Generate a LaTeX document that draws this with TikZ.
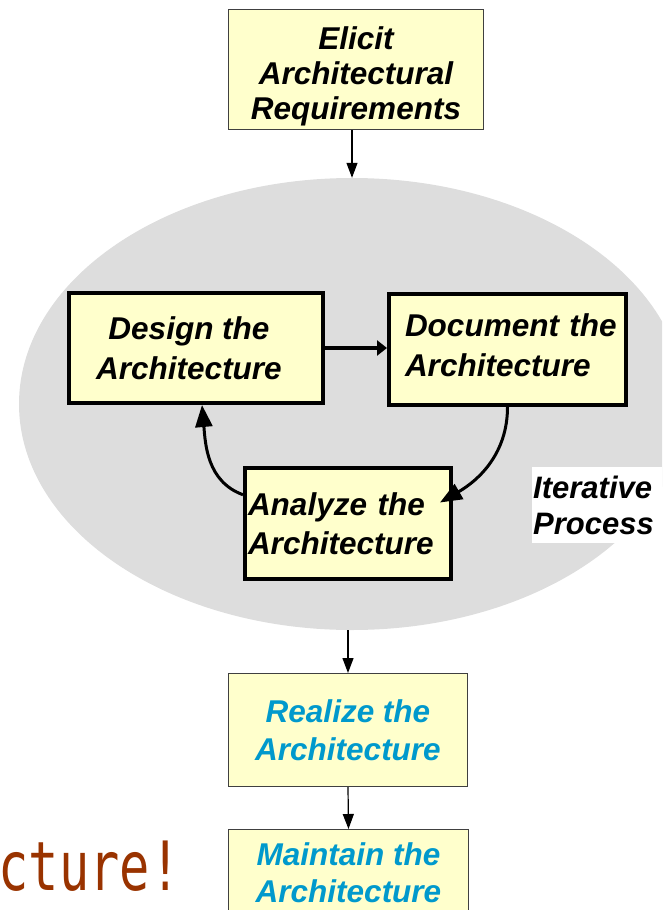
\documentclass[tikz,border=0pt]{standalone}
\usepackage{fontspec}
\setmainfont{Liberation Sans}
\newfontfamily\monof{DejaVu Sans Mono}
\usetikzlibrary{arrows.meta,shapes.geometric,calc}
\definecolor{boxfill}{HTML}{FFFFCC}
\definecolor{ellfill}{HTML}{DDDDDD}
\definecolor{textblue}{HTML}{0099CC}
\definecolor{titlebrown}{HTML}{993300}
\definecolor{thinedge}{HTML}{404040}
\begin{document}
\begin{tikzpicture}[x=1pt,y=1pt,
  thinbox/.style={draw=thinedge,line width=1.2pt,fill=boxfill,inner sep=0pt},
  thickbox/.style={draw=black,line width=4pt,fill=boxfill,inner sep=0pt},
  boxfont/.style={font=\fontsize{31.5}{#1}\selectfont\bfseries\itshape},
  thinarrow/.style={draw=black,line width=1.2pt,-{Triangle[length=15pt,width=11pt]}},
  looparrow/.style={draw=black,line width=3pt,-{Triangle[length=22pt,width=17pt]}},
  straightarrow/.style={draw=black,line width=3.5pt,-{Triangle[length=10pt,width=15pt]}}]
\useasboundingbox (0,0) rectangle (662,-910);
\clip (0,0) rectangle (662,-910);

\node[ellipse, fill=ellfill, minimum width=666pt, minimum height=452pt, inner sep=0pt] (iter) at (352,-404) {};

\node[thinbox, boxfont=35, minimum width=254.8pt, minimum height=119.8pt, align=center] (elicit) at (356,-69.5)
  {\rule{0pt}{36pt}Elicit\\Architectural\\Requirements};

\node[thickbox, boxfont=40, minimum width=254pt, minimum height=110pt, align=center] (design) at (196,-348)
  {Design the\hspace*{14pt}\\Architecture\hspace*{14pt}};

\node[thickbox, boxfont=40, minimum width=237pt, minimum height=111pt, text width=205pt, align=left] (document) at (507.5,-349.5)
  {Document~the\\Architecture\rule[-8pt]{0pt}{0pt}};

\node[thickbox, boxfont=39, minimum width=206pt, minimum height=111pt, text width=200pt, align=left] (analyze) at (348,-523.5)
  {Analyze the\\Architecture};

\node[thinbox, boxfont=38, text=textblue, minimum width=238.8pt, minimum height=112.8pt, align=center] (realize) at (348,-730)
  {Realize the\\Architecture};

\node[thinbox, boxfont=37, text=textblue, minimum width=239.8pt, minimum height=112.8pt, align=center] (maintain) at (348.5,-886)
  {Maintain the\\Architecture\rule[-27pt]{0pt}{0pt}};

\node[fill=white, inner xsep=1pt, inner ysep=0pt, anchor=north west, text width=130pt, minimum height=76pt, align=left,
  font=\fontsize{31}{36}\selectfont\bfseries\itshape] (iterlabel) at (532,-467) {Iterative\\Process};

\node[anchor=base west, inner sep=0pt, text=titlebrown, font=\monof\fontsize{68}{68}\selectfont] (title) at (-1.5,-890)
  {\scalebox{0.74}[1]{cture!}};

\draw[thinarrow] (elicit.south -| iter.north) -- (iter.north);
\draw[thinarrow] (iter.south -| realize.north) -- (realize.north);
\draw[thinarrow] (realize.south) -- (maintain.north);
\draw[straightarrow] (design.east) -- (design.east -| document.west);
\draw[looparrow] ($(analyze.west)!0.5!(analyze.north west)$) to[out=160,in=-85] ($(design.south)+(6,0)$);
\draw[looparrow] (document.south) to[out=-90,in=30] ($(analyze.east)+(-13,21)$);
\end{tikzpicture}
\end{document}
